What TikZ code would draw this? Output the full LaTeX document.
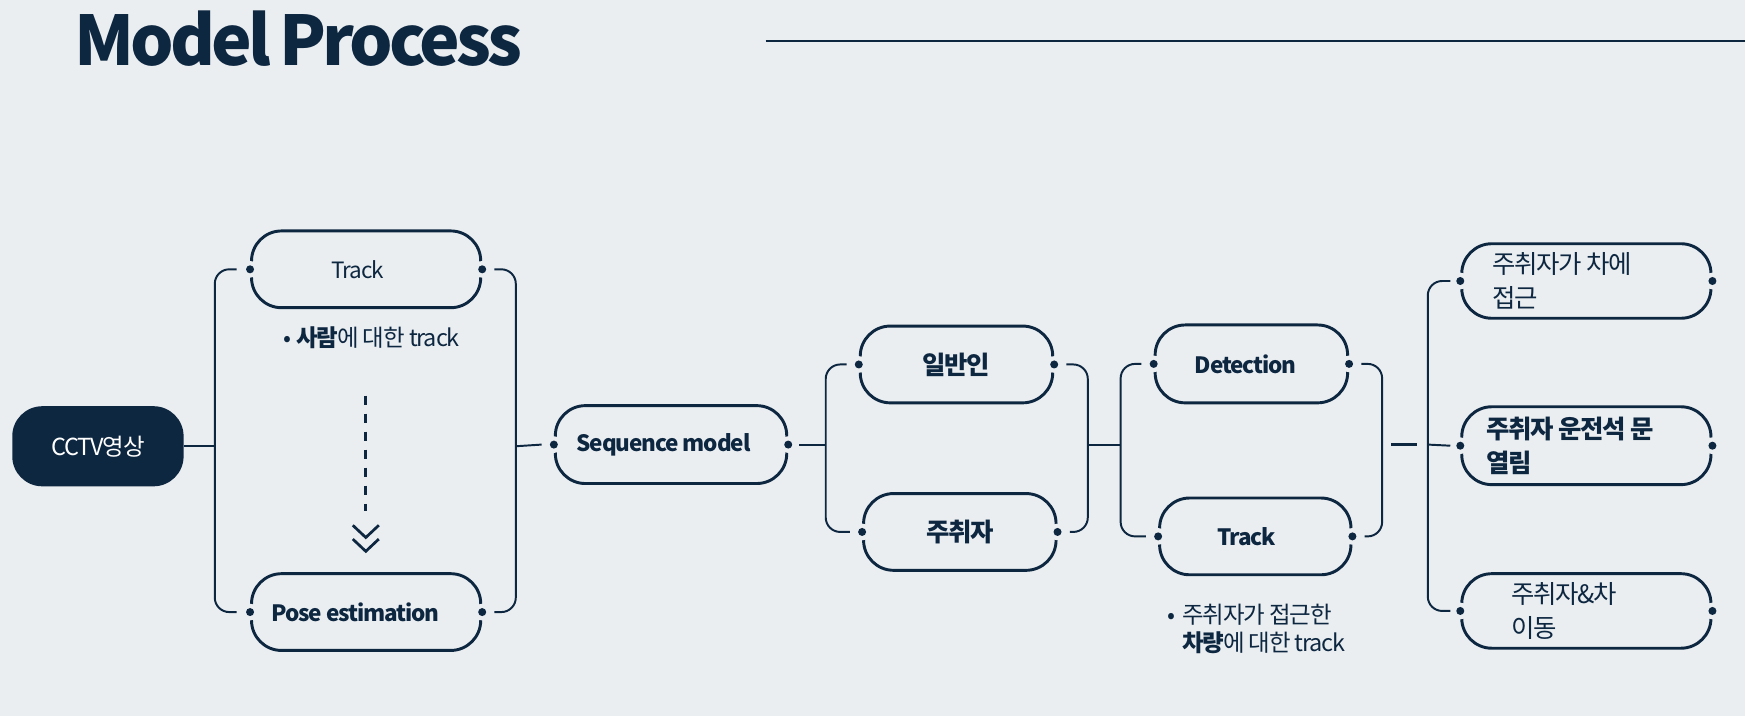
\documentclass[tikz,border=0pt]{standalone}
\usepackage{fontspec}
\setmainfont{Noto Sans CJK KR}[LetterSpace=-5]
\newfontfamily\titlefont{Noto Sans CJK KR}[LetterSpace=-6,WordSpace=0.8]
\usetikzlibrary{calc}
\definecolor{navy}{HTML}{0E2741}
\definecolor{bgc}{HTML}{EAEEF1}

\begin{document}
\begin{tikzpicture}[x=0.02cm,y=-0.02cm,
    pill/.style={draw=navy,line width=1.5pt,rounded corners=0.54cm,minimum height=1.38cm,inner sep=0pt,text=navy,align=flush left},
    dark/.style={fill=navy,text=white,rounded corners=0.54cm,minimum width=3.08cm,minimum height=1.44cm,inner sep=0pt,font=\fontsize{12}{14}\selectfont},
    lab/.style={font=\fontsize{11.5}{14}\selectfont},
    labb/.style={font=\fontsize{11.5}{14}\selectfont\bfseries},
    big/.style={font=\fontsize{13}{16}\selectfont\bfseries},
    ev/.style={font=\fontsize{13}{17.4}\selectfont},
    evb/.style={font=\fontsize{13}{17.4}\selectfont\bfseries},
    note/.style={text=navy,inner sep=0pt,align=flush left,font=\fontsize{12}{14.6}\selectfont},
    wire/.style={draw=navy,line width=1pt,rounded corners=0.26cm},
    chev/.style={draw=navy,line width=1.4pt}]
\fill[bgc] (0,0) rectangle (1568,643);
\node[anchor=base west,inner sep=0pt,text=navy,font=\titlefont\bfseries\fontsize{35}{40}\selectfont] (title) at (67,59) {Model Process};
\draw[navy,line width=1.1pt] (688,37) -- (1568,37);

\node[dark] (cctv) at (88,401) {CCTV영상};
\node[pill,lab,minimum width=4.12cm,text width=1.24cm] (trackA) at (329,242) {Track};
\node[pill,labb,minimum width=4.12cm,text width=3.4cm] (pose) at (329,550) {Pose estimation};
\node[pill,labb,minimum width=4.16cm,minimum height=1.4cm,text width=3.4cm] (seq) at (603,399.5) {Sequence model};
\node[pill,big,minimum width=3.46cm] (normal) at (859.5,327.5) {일반인};
\node[pill,big,minimum width=3.46cm] (drunk) at (862.5,478) {주취자};
\node[pill,labb,minimum width=3.46cm,minimum height=1.4cm,text width=2.03cm] (detect) at (1124.5,327) {Detection};
\node[pill,labb,minimum width=3.44cm,text width=1.36cm] (trackB) at (1128,482) {Track};
\node[pill,ev,minimum width=4.48cm,minimum height=1.34cm,text width=3.38cm] (near) at (1425.5,252.5) {주취자가 차에\\접근};
\node[pill,evb,minimum width=4.48cm,minimum height=1.4cm,text width=3.6cm] (door) at (1425.5,400.5) {주취자 운전석 문\\열림};
\node[pill,ev,minimum width=4.48cm,minimum height=1.34cm,text width=2.7cm] (move) at (1425.5,549) {주취자\&차\\이동};

\foreach \n in {trackA,pose,seq,normal,drunk,detect,trackB,near,door,move} {
  \foreach \a in {west,east} {
    \fill[bgc] (\n.\a) circle (0.15cm);
    \fill[navy] (\n.\a) circle (0.072cm);
  }
}

\node[note,anchor=west] (noteA) at (254,303.6) {•\hspace{0.28em}\textbf{사람}에 대한 track};
\node[note,anchor=west] (noteB) at (1049,565) {•\hspace{0.28em}주취자가 접근한\\\hphantom{•\hspace{0.28em}}\textbf{차량}에 대한 track};

\coordinate (dA) at (328.7,355.5);
\coordinate (dB) at (328.7,459.5);
\draw[navy,line width=1.4pt,dash pattern=on 0.168cm off 0.156cm] (dA) -- (dB);
\coordinate (cvA) at (328.7,483);
\coordinate (cvB) at (328.7,495.4);
\draw[chev] ($(cvA)+(-11.7,-11)$) -- (cvA) -- ($(cvA)+(11.7,-11)$);
\draw[chev] ($(cvB)+(-11.7,-11)$) -- (cvB) -- ($(cvB)+(11.7,-11)$);

\coordinate (b1) at (193,401);
\coordinate (b2) at (463.5,401);
\coordinate (b3) at (742,399.5);
\coordinate (b4) at (977.5,399.5);
\coordinate (b5) at (1007,399.5);
\coordinate (b6) at (1242,399.5);
\coordinate (b7) at (1283,399.5);
\draw[wire] (cctv.east) -- (b1);
\draw[wire] ($(trackA.west)+(-12,0)$) -| (b1) |- ($(pose.west)+(-12,0)$);
\draw[wire] ($(trackA.east)+(11,0)$) -| (b2) |- ($(pose.east)+(11,0)$);
\draw[wire] (b2) -- ($(seq.west)+(-11,0)$);
\draw[wire] ($(seq.east)+(10,0)$) -- (b3);
\draw[wire] ($(normal.west)+(-11,0)$) -| (b3) |- ($(drunk.west)+(-11,0)$);
\draw[wire] ($(normal.east)+(11,0)$) -| (b4) |- ($(drunk.east)+(11,0)$);
\draw[wire] (b4) -- (b5);
\draw[wire] ($(detect.west)+(-11,0)$) -| (b5) |- ($(trackB.west)+(-11,0)$);
\draw[wire] ($(detect.east)+(11,0)$) -| (b6) |- ($(trackB.east)+(11,0)$);
\draw[wire,line width=1.4pt] ($(b6)+(8,0)$) -- ($(b7)+(-10,0)$);
\draw[wire] ($(near.west)+(-9,0)$) -| (b7) |- ($(move.west)+(-9,0)$);
\draw[wire] (b7) -- ($(door.west)+(-9,0)$);
\end{tikzpicture}
\end{document}
